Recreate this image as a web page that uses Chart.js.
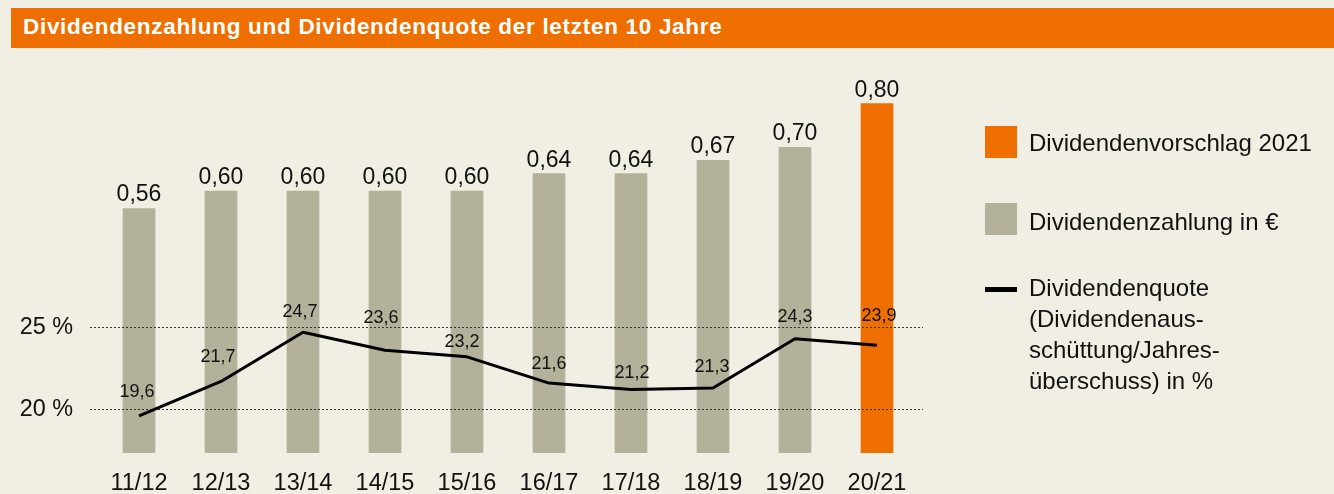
<!DOCTYPE html>
<html><head><meta charset="utf-8">
<script src="https://cdn.jsdelivr.net/npm/chart.js@4.4.1/dist/chart.umd.min.js"></script>
<style>
html,body{margin:0;padding:0;background:#f1efe4;width:1334px;height:494px;overflow:hidden;font-family:"Liberation Sans",Arial,sans-serif;}
#wrap{position:relative;width:1334px;height:494px;}
#chart{position:absolute;left:0;top:0;}
#title{position:absolute;left:11px;top:8px;width:1323px;height:40px;background:#ee6f00;color:#fff;font-weight:bold;font-size:22.5px;letter-spacing:0.7px;line-height:37px;box-sizing:border-box;padding-left:12px;white-space:nowrap;}
.sw{position:absolute;left:985px;width:32px;height:32px;}
.lt{position:absolute;left:1029px;font-size:24px;line-height:31px;color:#111;white-space:nowrap;}
</style></head>
<body>
<div id="wrap">
<canvas id="chart" width="1334" height="494"></canvas>
<div id="title">Dividendenzahlung und Dividendenquote der letzten 10 Jahre</div>
<div class="sw" style="top:126px;background:#ee6f00"></div>
<div class="lt" style="top:127px">Dividendenvorschlag 2021</div>
<div class="sw" style="top:203px;background:#b3b19a"></div>
<div class="lt" style="top:206px">Dividendenzahlung in €</div>
<div class="sw" style="top:287px;height:5px;background:#000"></div>
<div class="lt" style="top:272px">Dividendenquote<br>(Dividendenaus-<br>schüttung/Jahres-<br>überschuss) in %</div>
</div>
<script>
// ---- data ----
const categories = ['11/12','12/13','13/14','14/15','15/16','16/17','17/18','18/19','19/20','20/21'];
const dividends = [0.56, 0.60, 0.60, 0.60, 0.60, 0.64, 0.64, 0.67, 0.70, 0.80];
const payoutRatio = [19.6, 21.7, 24.7, 23.6, 23.2, 21.6, 21.2, 21.3, 24.3, 23.9];
const percentTicks = [20, 25];

// ---- style ----
const GRAY = '#b3b19a', ORANGE = '#ee6f00', TEXT = '#111';
const FONT = '"Liberation Sans", Arial, sans-serif';
const barColors = categories.map((c, i) => i === categories.length - 1 ? ORANGE : GRAY);
const lineLabelGap = [19, 19, 15, 27, 10, 14, 12, 16, 17, 24];
const lineLabelDx = [-2, -3, -3, -4, -5, 0, 1, -1, 0, 2];

const overlay = {
  id: 'overlay',
  afterDatasetDraw(chart, args) {
    if (args.index !== 0) return;
    const ctx = chart.ctx, area = chart.chartArea, yP = chart.scales.yPct;
    ctx.save();
    ctx.strokeStyle = '#333'; ctx.lineWidth = 1; ctx.setLineDash([2, 2]);
    percentTicks.forEach(t => {
      const y = Math.round(yP.getPixelForValue(t)) + 0.5;
      ctx.beginPath(); ctx.moveTo(area.left - 8, y); ctx.lineTo(area.right + 5, y); ctx.stroke();
    });
    ctx.restore();
  },
  afterDatasetsDraw(chart) {
    const ctx = chart.ctx;
    ctx.save();
    ctx.fillStyle = TEXT; ctx.textAlign = 'center'; ctx.textBaseline = 'alphabetic';
    ctx.font = '23px ' + FONT;
    chart.getDatasetMeta(0).data.forEach((bar, i) => {
      ctx.fillText(dividends[i].toFixed(2).replace('.', ','), bar.x, bar.y - 7);
    });
    ctx.font = '18px ' + FONT;
    chart.getDatasetMeta(1).data.forEach((pt, i) => {
      ctx.fillText(payoutRatio[i].toFixed(1).replace('.', ','), pt.x + lineLabelDx[i], pt.y - lineLabelGap[i]);
    });
    ctx.restore();
  }
};

new Chart(document.getElementById('chart'), {
  data: {
    labels: categories,
    datasets: [
      { type: 'bar', data: dividends, backgroundColor: barColors, barThickness: 32, yAxisID: 'y', order: 2 },
      { type: 'line', data: payoutRatio, borderColor: '#000', borderWidth: 3, pointRadius: 0, tension: 0,
        fill: false, borderJoinStyle: 'round', yAxisID: 'yPct', order: 1 }
    ]
  },
  options: {
    responsive: false, animation: false, devicePixelRatio: 1,
    layout: { padding: { top: 60, right: 416, bottom: 0, left: 0 } },
    plugins: { legend: { display: false }, tooltip: { enabled: false } },
    scales: {
      x: {
        grid: { display: false, drawTicks: false }, border: { display: false },
        ticks: { color: TEXT, font: { family: FONT, size: 23.5 }, padding: 16, maxRotation: 0 },
        afterFit(s) { s.height = 41; }
      },
      yPct: {
        position: 'left', min: 17.335, max: 41.30,
        grid: { display: false, drawTicks: false }, border: { display: false },
        afterBuildTicks(s) { s.ticks = percentTicks.map(v => ({ value: v })); },
        ticks: { color: TEXT, font: { family: FONT, size: 23.4 }, padding: 25, callback: v => v + ' %' },
        afterFit(s) { s.width = 98; }
      },
      y: { display: false, position: 'right', min: 0, max: 0.9 }
    }
  },
  plugins: [overlay]
});
</script>
</body></html>
